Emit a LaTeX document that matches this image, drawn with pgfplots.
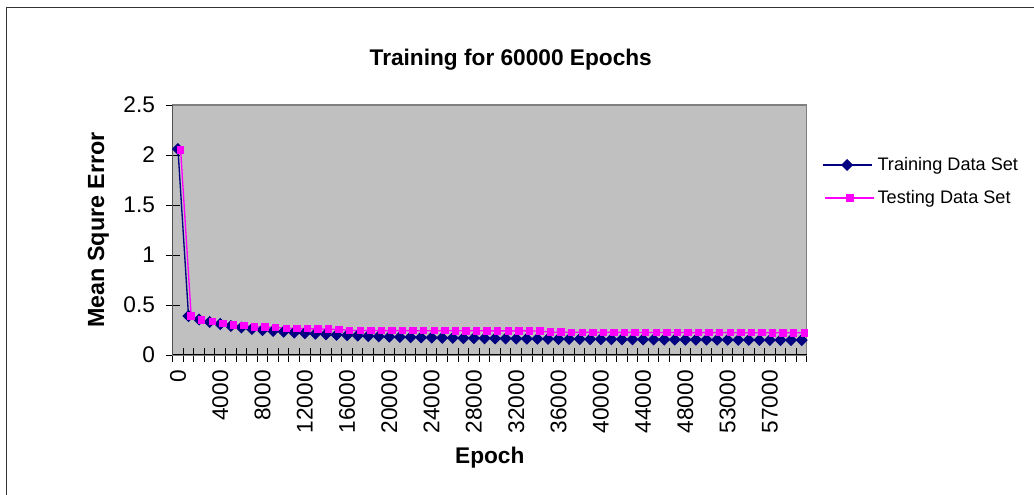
\documentclass[border=0pt]{standalone}
\usepackage{pgfplots}
\pgfplotsset{compat=1.18}
\usepackage{fontspec}
\setmainfont{Liberation Sans}
\definecolor{navyc}{RGB}{0,0,128}
\definecolor{magc}{RGB}{255,0,255}
\definecolor{plotgray}{RGB}{192,192,192}
\begin{document}
\begin{tikzpicture}
\useasboundingbox (-129.5pt,-105pt) rectangle (646pt,266.25pt);
\draw[line width=0.8pt,black!80] (-124.5pt,-106pt) -- (-124.5pt,260.8pt) -- (647pt,260.8pt);
\begin{axis}[
  at={(0,0)}, anchor=south west,
  scale only axis, width=475.7pt, height=187.5pt,
  xmin=-0.5, xmax=59.5, ymin=0, ymax=2.5,
  axis background/.style={fill=plotgray},
  axis line style={draw=black!50, line width=0.8pt},
  xtick pos=lower, ytick pos=left,
  ytick={0,0.5,...,2.5},
  yticklabels={0,0.5,1,1.5,2,2.5},
  xtick={-0.5,0.5,...,59.5},
  xticklabels={},
  extra x ticks={0,4,...,56},
  extra x tick labels={0,4000,8000,12000,16000,20000,24000,28000,32000,36000,40000,44000,48000,53000,57000},
  extra x tick style={major tick length=0pt, tick label style={yshift=-8pt, rotate=90, anchor=east}},
  tick align=center, major tick length=10.5pt,
  tick style={black, line width=0.7pt},
  /pgf/number format/assume math mode=true,
  tick label style={font=\fontsize{17}{20}\selectfont},
  y tick label style={xshift=-4.5pt},
  every axis title shift=0pt,
  title={Training for 60000 Epochs},
  title style={font=\fontsize{17}{20}\selectfont\bfseries, at={(axis description cs:0.533,1.183)}, anchor=center},
  xlabel={Epoch},
  xlabel style={font=\fontsize{17}{20}\selectfont\bfseries, at={(axis description cs:0.5,-0.412)}, anchor=center},
  ylabel={Mean Squre Error},
  ylabel style={font=\fontsize{17.5}{20}\selectfont\bfseries, at={(axis description cs:-0.117,0.5)}, anchor=center},
  legend style={at={(1.0232,0.694)}, anchor=west, draw=none, fill=none, inner sep=0pt,
     font=\fontsize{13.6}{16}\selectfont, row sep=9.5pt},
  legend cell align=left,
  legend image code/.code={\draw[mark repeat=2,mark phase=2,#1] plot coordinates {(0pt,0pt) (18.4pt,0pt) (36.75pt,0pt)};},
]
\addplot[navyc, line width=1pt, mark=square*, mark size=2.7pt, mark options={rotate=45, fill=navyc, draw=navyc}] coordinates {
(0,2.06) (1,0.39) (2,0.355) (3,0.33) (4,0.31) (5,0.29) (6,0.275) (7,0.26) (8,0.25) (9,0.24)
(10,0.232) (11,0.225) (12,0.218) (13,0.212) (14,0.207) (15,0.202) (16,0.198) (17,0.194) (18,0.19) (19,0.186)
(20,0.183) (21,0.18) (22,0.178) (23,0.176) (24,0.174) (25,0.172) (26,0.171) (27,0.169) (28,0.168) (29,0.167)
(30,0.166) (31,0.165) (32,0.164) (33,0.163) (34,0.162) (35,0.161) (36,0.16) (37,0.16) (38,0.159) (39,0.158)
(40,0.158) (41,0.157) (42,0.157) (43,0.156) (44,0.156) (45,0.155) (46,0.155) (47,0.154) (48,0.154) (49,0.153)
(50,0.153) (51,0.152) (52,0.152) (53,0.151) (54,0.151) (55,0.15) (56,0.15) (57,0.15) (58,0.149) (59,0.149)
};
\addlegendentry{Training Data Set}
\addplot[magc, line width=1pt, mark=square*, mark size=2.3pt, mark options={fill=magc, draw=magc}, xshift=2pt] coordinates {
(0,2.05) (1,0.39) (2,0.35) (3,0.333) (4,0.317) (5,0.3) (6,0.295) (7,0.28) (8,0.278) (9,0.275)
(10,0.267) (11,0.265) (12,0.263) (13,0.26) (14,0.258) (15,0.256) (16,0.245) (17,0.245) (18,0.245) (19,0.244)
(20,0.244) (21,0.244) (22,0.243) (23,0.243) (24,0.243) (25,0.243) (26,0.242) (27,0.242) (28,0.242) (29,0.242)
(30,0.241) (31,0.241) (32,0.241) (33,0.241) (34,0.24) (35,0.228) (36,0.228) (37,0.227) (38,0.227) (39,0.227)
(40,0.226) (41,0.226) (42,0.226) (43,0.226) (44,0.225) (45,0.225) (46,0.225) (47,0.225) (48,0.224) (49,0.224)
(50,0.224) (51,0.224) (52,0.223) (53,0.223) (54,0.223) (55,0.223) (56,0.222) (57,0.222) (58,0.222) (59,0.222)
};
\addlegendentry{Testing Data Set}
\draw[black, line width=0.9pt] (rel axis cs:0,1) -- (rel axis cs:0,0) -- (rel axis cs:1,0);
\end{axis}
\end{tikzpicture}
\end{document}
